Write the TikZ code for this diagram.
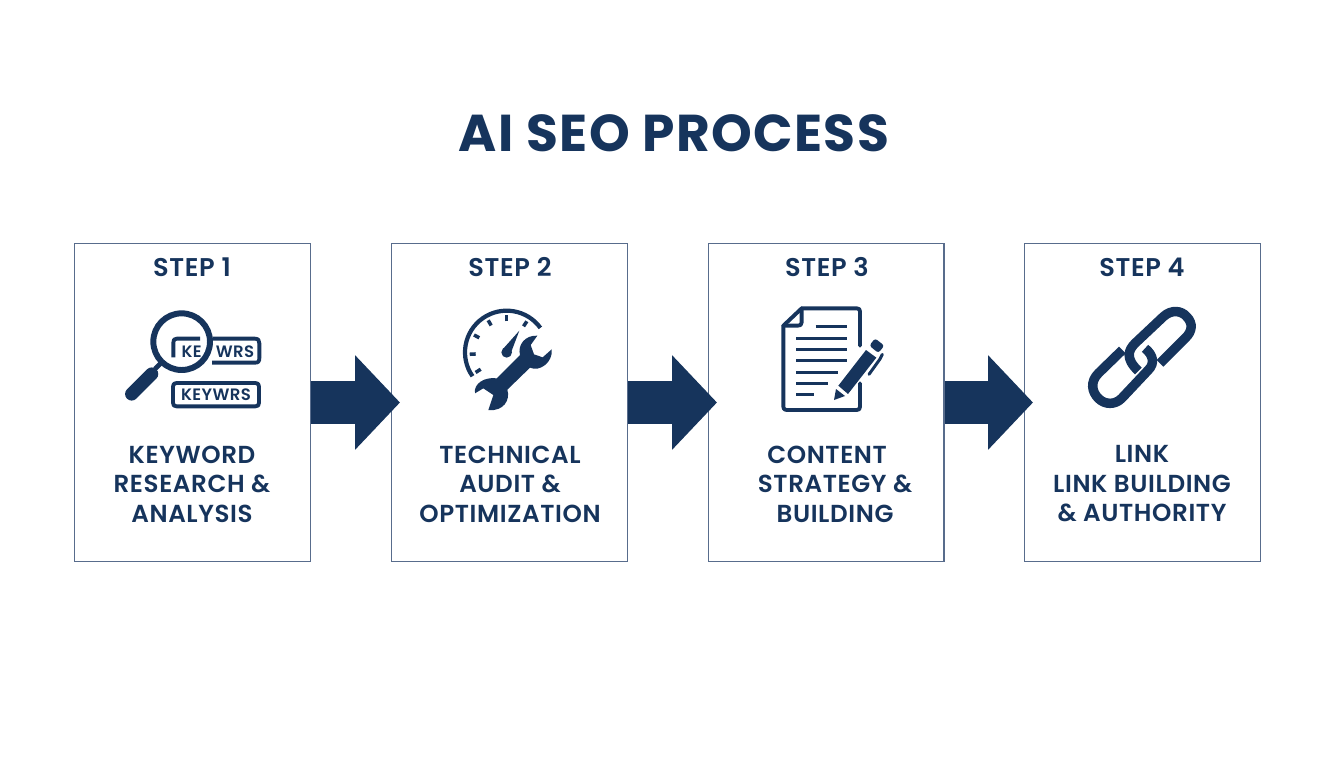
\documentclass[tikz,border=0pt]{standalone}
\usepackage{fontspec}
\setmainfont{Poppins}
\newfontfamily\titlefont{Poppins Bold}[LetterSpace=2.8]
\newfontfamily\semifont{Poppins SemiBold}[LetterSpace=2.5]
\usetikzlibrary{arrows.meta}
\definecolor{navy}{RGB}{22,52,92}
\definecolor{edgeblue}{RGB}{88,108,140}
\tikzset{
  stepbox/.style={draw=edgeblue,line width=0.7pt,minimum width=134.2pt,minimum height=181pt,inner sep=0pt},
  steptitle/.style={text=navy,font=\fontsize{14.6pt}{16pt}\selectfont\semifont},
  stepcap/.style={text=navy,font=\fontsize{14pt}{16.8pt}\selectfont\semifont,align=center},
  tagtext/.style={text=navy,font=\fontsize{9.4pt}{10pt}\selectfont\semifont,inner sep=0pt},
  bigarrow/.style={draw=navy,line width=24.4pt,-{Triangle[length=25.5pt,width=52.2pt]}},
  iconline/.style={draw=navy,line width=2.2pt,line cap=round,line join=round},
}
\begin{document}
\begin{tikzpicture}[x=0.02cm,y=-0.02cm]
\useasboundingbox (0,0) rectangle (1344,768);
\node[text=navy,font=\fontsize{29.5pt}{32pt}\selectfont\titlefont] (title) at (674,133) {AI SEO PROCESS};
% boxes
\node[stepbox] (box1) at (192.5,402.5) {};
\node[stepbox] (box2) at (509.3,402.5) {};
\node[stepbox] (box3) at (826.2,402.5) {};
\node[stepbox] (box4) at (1142.5,402.5) {};
\foreach \n/\x in {1/192,2/510,3/827,4/1142}
  \node[steptitle] (head\n) at (\x,267) {STEP \n};
\node[stepcap] (cap1) at (192,484) {KEYWORD\\RESEARCH \&\\ANALYSIS};
\node[stepcap] (cap2) at (510,484) {TECHNICAL\\AUDIT \&\\OPTIMIZATION};
\node[stepcap] (cap3) at (835,484) {CONTENT\hspace*{9pt}\\STRATEGY \&\\BUILDING};
\node[stepcap] (cap4) at (1142,484) {LINK\\LINK BUILDING\\\& AUTHORITY};
% arrows
\coordinate (tip1) at (400,402.5);
\coordinate (tip2) at (717,402.5);
\coordinate (tip3) at (1033,402.5);
\draw[bigarrow] (box1.east) -- (tip1);
\draw[bigarrow] (box2.east) -- (tip2);
\draw[bigarrow] (box3.east) -- (tip3);
% icon 1
\begin{scope}[shift={(110,300)},scale=1/3]
\draw[iconline,line cap=butt] (270,116) -- (200,116) .. controls (192,116) and (190,120) .. (190,128) -- (190,172);
\draw[iconline,line cap=butt] (308,116) -- (435,116) .. controls (445,116) and (448,122) .. (448,130) -- (448,174) .. controls (448,184) and (445,188) .. (435,188) -- (306,188);
\draw[iconline] (200,249) -- (436,249) .. controls (444,249) and (447,252) .. (447,260) -- (447,308) .. controls (447,316) and (444,319) .. (436,319) -- (200,319) .. controls (192,319) and (189,316) .. (189,308) -- (189,260) .. controls (189,252) and (192,249) .. (200,249) -- cycle;
\node[tagtext] (tagke) at (245,155) {KE};
\node[tagtext] (tagwrs) at (375,155) {WRS};
\node[tagtext] (tagkey) at (318,285) {KEYWRS};
\draw[navy,line width=3.4pt] (215,125) circle (85);
\draw[navy,line width=2.8pt] (160,182) -- (135,207);
\draw[navy,line width=7.5pt,line cap=round] (125,222) -- (65,282);
\end{scope}
% icon 2
\begin{scope}[shift={(440,295)},scale=1/3]
\draw[navy,line width=2.4pt] (200,172) ++(-215:125) arc (-215:-36:125);
\foreach \a in {213,183,152,120,90,57}
  \draw[navy,line width=2pt] (200,172) ++(-\a:93) -- ++(-\a:18);
\fill[navy] (200,172) circle (16);
\fill[navy] (188,163) -- (238,107) -- (214,170) -- cycle;
\fill[navy] (240,180) .. controls (232,150) and (255,120) .. (292,122) -- (272,150) -- (282,178) -- (308,187) -- (335,163)
  .. controls (340,200) and (300,232) .. (270,218) -- (202,284)
  .. controls (212,315) and (190,350) .. (145,345) -- (160,300) -- (130,280) -- (105,295)
  .. controls (100,265) and (135,245) .. (170,250) -- cycle;
\end{scope}
% icon 3
\begin{scope}[shift={(765,295)},scale=1/3]
\draw[iconline] (285,152) -- (285,50) .. controls (285,43) and (282,40) .. (275,40) -- (110,40) -- (55,92) -- (55,335) .. controls (55,342) and (58,345) .. (65,345) -- (275,345) .. controls (282,345) and (285,342) .. (285,335) -- (285,265);
\draw[iconline] (110,40) -- (110,82) .. controls (110,90) and (105,92) .. (98,92) -- (55,92);
\foreach \y/\a/\b in {95/152/245,129/94/245,163/94/245,197/94/245,231/94/218,264/94/190,297/94/146}
  \draw[navy,line width=1.7pt] (\a,\y) -- (\b,\y);
\fill[navy] (207,315) -- (213,282) -- (240,303) -- cycle;
\fill[navy] (220,272) -- (303,165) -- (334,188) -- (249,297) -- cycle;
\fill[navy,rounded corners=1.5pt] (313,152) -- (330,130) -- (358,152) -- (340,174) -- cycle;
\draw[navy,line width=1.7pt,line cap=round,line join=round] (352,178) -- (345,192) -- (312,238);
\end{scope}
% icon 4
\begin{scope}[shift={(1075,295)},scale=1/3]
\draw[navy,line width=5.4pt] (190,228) .. controls (150,190) and (160,165) .. (180,145) -- (265,65) .. controls (290,42) and (320,47) .. (335,65) .. controls (355,85) and (352,110) .. (330,130) -- (255,205);
\draw[navy,line width=5.4pt] (142,165) -- (70,235) .. controls (45,260) and (50,290) .. (70,310) .. controls (90,330) and (120,330) .. (140,310) -- (220,225) .. controls (240,205) and (235,180) .. (210,160);
\end{scope}
\end{tikzpicture}
\end{document}
